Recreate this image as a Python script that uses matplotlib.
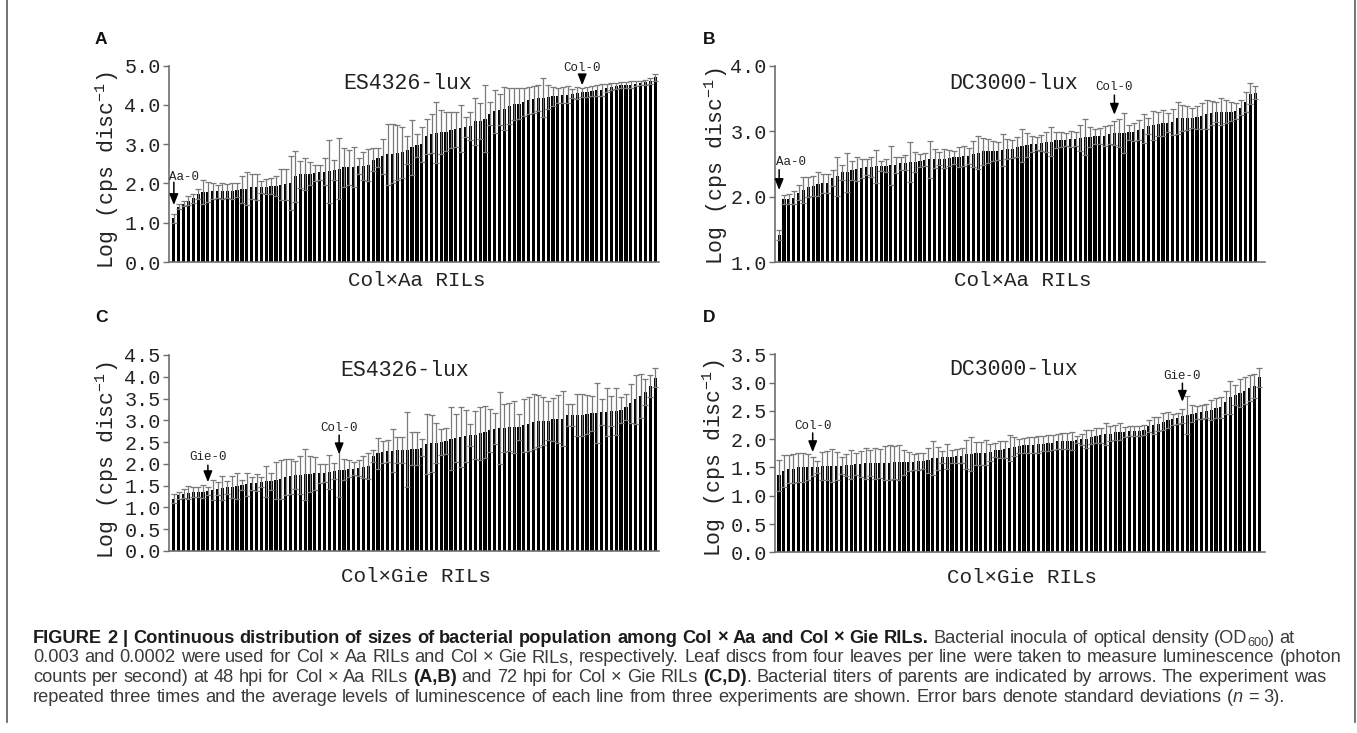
import matplotlib
matplotlib.use('Agg')
import matplotlib.pyplot as plt
import numpy as np
from matplotlib.transforms import IdentityTransform
from matplotlib.lines import Line2D
from matplotlib.ticker import FormatStrFormatter

plt.rcParams['font.family'] = ['Liberation Mono', 'DejaVu Sans']
plt.rcParams['mathtext.fontset'] = 'custom'
plt.rcParams['mathtext.rm'] = 'Liberation Mono'
plt.rcParams['mathtext.it'] = 'Liberation Mono:italic'

# ---------------- data ----------------
# Panel A: Col x Aa RILs, ES4326-lux
a_vals = [1.11, 1.41, 1.49, 1.56, 1.62, 1.73, 1.79, 1.79, 1.80, 1.80,
          1.80, 1.80, 1.81, 1.83, 1.85, 1.87, 1.92, 1.92, 1.92, 1.92,
          1.93, 1.94, 1.97, 1.98, 2.02, 2.19, 2.23, 2.24, 2.25, 2.27,
          2.28, 2.30, 2.31, 2.34, 2.38, 2.41, 2.41, 2.42, 2.44, 2.45,
          2.47, 2.61, 2.66, 2.69, 2.74, 2.76, 2.78, 2.80, 2.85, 2.92,
          2.97, 3.00, 3.20, 3.27, 3.29, 3.31, 3.32, 3.36, 3.38, 3.41,
          3.44, 3.46, 3.58, 3.59, 3.65, 3.78, 3.84, 3.88, 3.90, 3.97,
          4.02, 4.03, 4.08, 4.12, 4.14, 4.18, 4.19, 4.20, 4.22, 4.24,
          4.25, 4.26, 4.29, 4.31, 4.32, 4.33, 4.36, 4.37, 4.39, 4.44,
          4.47, 4.49, 4.50, 4.51, 4.52, 4.54, 4.56, 4.58, 4.61, 4.70]
a_errs = [0.12, 0.07, 0.07, 0.11, 0.11, 0.12, 0.31, 0.25, 0.20, 0.16,
          0.20, 0.18, 0.20, 0.18, 0.35, 0.42, 0.32, 0.33, 0.15, 0.20,
          0.20, 0.25, 0.40, 0.40, 0.69, 0.65, 0.35, 0.40, 0.30, 0.20,
          0.20, 0.35, 0.80, 0.25, 0.78, 0.50, 0.45, 0.50, 0.20, 0.35,
          0.40, 0.30, 0.25, 0.45, 0.78, 0.75, 0.70, 0.65, 0.35, 0.70,
          0.30, 0.45, 0.45, 0.50, 0.78, 0.55, 0.50, 0.45, 0.45, 0.60,
          0.25, 0.35, 0.60, 0.45, 0.85, 0.30, 0.55, 0.40, 0.55, 0.45,
          0.40, 0.40, 0.35, 0.35, 0.35, 0.33, 0.50, 0.30, 0.25, 0.20,
          0.20, 0.22, 0.12, 0.15, 0.12, 0.12, 0.12, 0.14, 0.15, 0.10,
          0.08, 0.08, 0.08, 0.08, 0.08, 0.06, 0.06, 0.06, 0.08, 0.08]

# Panel B: Col x Aa RILs, DC3000-lux
b_vals = [1.41, 1.96, 1.96, 1.98, 2.06, 2.10, 2.15, 2.16, 2.19, 2.20,
          2.20, 2.28, 2.31, 2.37, 2.37, 2.40, 2.42, 2.43, 2.45, 2.45,
          2.46, 2.47, 2.47, 2.48, 2.48, 2.51, 2.52, 2.53, 2.53, 2.55,
          2.56, 2.57, 2.58, 2.58, 2.58, 2.59, 2.60, 2.60, 2.62, 2.62,
          2.65, 2.67, 2.69, 2.70, 2.70,
          2.70, 2.71, 2.73, 2.73, 2.76, 2.78, 2.79, 2.80, 2.81, 2.82,
          2.83, 2.84, 2.86, 2.87, 2.87, 2.88, 2.88, 2.89, 2.91, 2.91,
          2.92, 2.93, 2.93, 2.95, 2.97, 2.97, 2.97, 2.98, 2.99, 3.02,
          3.04, 3.08, 3.09, 3.11, 3.12, 3.13, 3.14, 3.20, 3.20, 3.20,
          3.20, 3.21, 3.23, 3.26, 3.28, 3.29, 3.30, 3.30, 3.30, 3.31,
          3.36, 3.45, 3.57, 3.59]
b_errs = [0.08, 0.07, 0.08, 0.10, 0.12, 0.20, 0.15, 0.15, 0.18, 0.15,
          0.15, 0.12, 0.30, 0.12, 0.30, 0.15, 0.18, 0.15, 0.12, 0.15,
          0.25, 0.08, 0.10, 0.30, 0.12, 0.10, 0.12, 0.30, 0.15, 0.10,
          0.10, 0.28, 0.15, 0.10, 0.15, 0.12, 0.10, 0.15, 0.15, 0.12,
          0.20, 0.25, 0.20, 0.18, 0.15,
          0.14, 0.25, 0.15, 0.14, 0.15, 0.25, 0.18, 0.12, 0.10, 0.12,
          0.15, 0.22, 0.12, 0.12, 0.10, 0.12, 0.10, 0.20, 0.28, 0.15,
          0.12, 0.12, 0.15, 0.15, 0.18, 0.22, 0.30, 0.12, 0.14, 0.15,
          0.22, 0.12, 0.22, 0.18, 0.20, 0.15, 0.20, 0.25, 0.20, 0.18,
          0.15, 0.18, 0.20, 0.22, 0.18, 0.15, 0.20, 0.18, 0.15, 0.12,
          0.12, 0.15, 0.16, 0.10]

# Panel C: Col x Gie RILs, ES4326-lux
c_vals = [1.20, 1.28, 1.32, 1.34, 1.35, 1.36, 1.36, 1.38, 1.39, 1.43,
          1.45, 1.46, 1.47, 1.49, 1.51, 1.53, 1.55, 1.57, 1.59, 1.60,
          1.60, 1.62, 1.65, 1.70, 1.72, 1.74, 1.75, 1.76, 1.77, 1.78,
          1.78, 1.79, 1.82, 1.83, 1.85, 1.87, 1.89, 1.89, 1.91, 1.93,
          1.95, 2.18, 2.24, 2.28, 2.29, 2.30, 2.31, 2.31, 2.33, 2.35,
          2.35, 2.37, 2.45, 2.47, 2.48, 2.51, 2.53, 2.58, 2.60, 2.62,
          2.64, 2.66, 2.67, 2.70, 2.74, 2.77, 2.81, 2.83, 2.83, 2.84,
          2.84, 2.85, 2.89, 2.91, 2.97, 2.98, 2.98, 2.99, 3.02, 3.03,
          3.04, 3.12, 3.12, 3.13, 3.13, 3.14, 3.16, 3.17, 3.20, 3.20,
          3.21, 3.21, 3.23, 3.31, 3.39, 3.48, 3.56, 3.65, 3.78, 3.98]
c_errs = [0.10, 0.08, 0.10, 0.15, 0.12, 0.12, 0.15, 0.10, 0.23, 0.15,
          0.27, 0.15, 0.25, 0.30, 0.12, 0.26, 0.15, 0.20, 0.12, 0.36,
          0.20, 0.43, 0.45, 0.42, 0.40, 0.32, 0.44, 0.58, 0.42, 0.38,
          0.22, 0.20, 0.39, 0.18, 0.60, 0.25, 0.20, 0.15, 0.18, 0.25,
          0.30, 0.13, 0.36, 0.25, 0.25, 0.49, 0.30, 0.30, 0.85, 0.38,
          0.38, 0.20, 0.69, 0.65, 0.45, 0.30, 0.30, 0.72, 0.55, 0.68,
          0.60, 0.25, 0.55, 0.61, 0.60, 0.50, 0.35, 0.83, 0.55, 0.55,
          0.60, 0.30, 0.61, 0.62, 0.63, 0.60, 0.55, 0.45, 0.50, 0.55,
          0.64, 0.25, 0.25, 0.48, 0.48, 0.45, 0.40, 0.69, 0.30, 0.55,
          0.35, 0.54, 0.30, 0.30, 0.45, 0.56, 0.50, 0.30, 0.25, 0.22]

# Panel D: Col x Gie RILs, DC3000-lux
d_vals = [1.36, 1.44, 1.47, 1.48, 1.50, 1.50, 1.50, 1.51, 1.51, 1.53,
          1.53, 1.53, 1.53, 1.53, 1.54, 1.55, 1.56, 1.56, 1.57, 1.57,
          1.57, 1.57, 1.58, 1.58, 1.59, 1.59, 1.59, 1.60, 1.60, 1.61,
          1.61, 1.63, 1.66, 1.66, 1.68, 1.69, 1.69, 1.70, 1.71, 1.73,
          1.74, 1.75, 1.75, 1.76, 1.77,
          1.81, 1.81, 1.82, 1.84, 1.87, 1.88, 1.89, 1.90, 1.90, 1.91,
          1.92, 1.93, 1.94, 1.96, 1.97, 1.97, 1.97, 1.99, 2.00, 2.00,
          2.04, 2.06, 2.07, 2.09, 2.10, 2.12, 2.13, 2.13, 2.14, 2.14,
          2.15, 2.16, 2.23, 2.25, 2.27, 2.31, 2.34, 2.35, 2.37, 2.41,
          2.43, 2.45, 2.47, 2.48, 2.50, 2.52, 2.55, 2.56, 2.65, 2.74,
          2.78, 2.81, 2.86, 2.90, 2.94, 3.09]
d_errs = [0.28, 0.28, 0.25, 0.26, 0.25, 0.25, 0.23, 0.17, 0.10, 0.25,
          0.26, 0.29, 0.25, 0.15, 0.20, 0.25, 0.20, 0.23, 0.27, 0.23,
          0.28, 0.25, 0.30, 0.31, 0.29, 0.31, 0.22, 0.17, 0.14, 0.15,
          0.14, 0.22, 0.30, 0.20, 0.11, 0.22, 0.11, 0.13, 0.13, 0.25,
          0.30, 0.20, 0.20, 0.22, 0.15,
          0.12, 0.15, 0.15, 0.23, 0.17, 0.13, 0.13, 0.14, 0.14, 0.15,
          0.13, 0.14, 0.14, 0.13, 0.14, 0.14, 0.16, 0.06, 0.10, 0.16,
          0.12, 0.13, 0.13, 0.20, 0.13, 0.13, 0.15, 0.09, 0.09, 0.09,
          0.09, 0.09, 0.10, 0.15, 0.13, 0.15, 0.14, 0.10, 0.10, 0.13,
          0.33, 0.15, 0.12, 0.12, 0.13, 0.18, 0.18, 0.19, 0.20, 0.29,
          0.18, 0.25, 0.23, 0.23, 0.22, 0.16]

titles = ['ES4326-lux', 'DC3000-lux', 'ES4326-lux', 'DC3000-lux']
xlabels = ['Col×Aa RILs', 'Col×Aa RILs', 'Col×Gie RILs', 'Col×Gie RILs']
letters = ['A', 'B', 'C', 'D']
ylims = [(0, 5.0), (1.0, 4.0), (0, 4.5), (0, 3.5)]
ysteps = [1.0, 1.0, 0.5, 0.5]
# parent lines: (label, bar index, arrow tip, arrow start, text y, text x offset, ha)
parents = [
    [('Aa-0', 0, 1.45, 2.03, 2.16, -0.9, 'left'), ('Col-0', 84, 4.50, 4.76, 4.95, 0, 'center')],
    [('Aa-0', 0, 2.10, 2.41, 2.53, -0.6, 'left'), ('Col-0', 69, 3.25, 3.55, 3.67, 0, 'center')],
    [('Gie-0', 7, 1.58, 1.97, 2.15, 0, 'center'), ('Col-0', 34, 2.22, 2.66, 2.82, 0, 'center')],
    [('Col-0', 7, 1.77, 2.11, 2.24, 0, 'center'), ('Gie-0', 84, 2.66, 2.99, 3.11, 0, 'center')],
]
series = [(a_vals, a_errs), (b_vals, b_errs), (c_vals, c_errs), (d_vals, d_errs)]

# ---------------- layout (pixels) ----------------
W, H = 1357, 733
fig = plt.figure(figsize=(W / 100, H / 100), dpi=100)
rects = [(169, 65.7, 659, 262), (775, 65.7, 1265, 262),
         (169, 355, 659, 551), (775, 354.3, 1265, 552.3)]
xlims = [(-1.0, 99.8), (-0.85, 100.0), (-1.0, 99.8), (-0.85, 101.2)]
ylab_pos = [(107, 170), (716, 166), (107, 460), (714, 458)]
letter_pos = [(95, 39), (703, 39), (95, 317.5), (703, 317.5)]
xlab_y = [-0.092, -0.092, -0.128, -0.128]
title_pos = [(0.486, 0.91), (0.486, 0.91), (0.48, 0.923), (0.486, 0.923)]
AX_COL = '#6e6e6e'
ident = IdentityTransform()

for k in range(4):
    l, t, r, b = rects[k]
    ax = fig.add_axes([l / W, 1 - b / H, (r - l) / W, (b - t) / H])
    vals, errs = series[k]
    x = np.arange(len(vals))
    ax.bar(x, vals, width=0.66, color='black', zorder=2)
    ax.errorbar(x, vals, yerr=errs, fmt='none', ecolor='#7a7a7a', elinewidth=0.9,
                capsize=2.4, capthick=0.9, zorder=3)
    ax.set_xlim(*xlims[k])
    ax.set_ylim(*ylims[k])
    ax.set_yticks(np.arange(ylims[k][0], ylims[k][1] + 1e-6, ysteps[k]))
    ax.yaxis.set_major_formatter(FormatStrFormatter('%.1f'))
    for s in ['top', 'right']:
        ax.spines[s].set_visible(False)
    for s in ['left', 'bottom']:
        ax.spines[s].set_color(AX_COL)
        ax.spines[s].set_linewidth(1.2)
    ax.tick_params(axis='x', bottom=False, labelbottom=False)
    ax.tick_params(axis='y', direction='out', length=4, width=1.0, color=AX_COL,
                   labelsize=14.5, pad=2, labelcolor='#222222')
    ax.text(title_pos[k][0], title_pos[k][1], titles[k], transform=ax.transAxes,
            ha='center', va='center', fontsize=15.5, color='#222222')
    ax.text(0.505, xlab_y[k], xlabels[k], transform=ax.transAxes,
            ha='center', va='center', fontsize=15, color='#222222')
    fig.text(ylab_pos[k][0], H - ylab_pos[k][1], 'Log (cps disc$^{-1}$)',
             transform=ident, rotation=90, ha='center', va='center',
             fontsize=15.5, color='#222222')
    fig.text(letter_pos[k][0], H - letter_pos[k][1], letters[k], transform=ident,
             ha='left', va='center', fontsize=12.5, fontweight='bold',
             family='Liberation Sans', color='#111111')
    for (lab, ix, tip, start, ty, dx, ha) in parents[k]:
        ax.annotate('', xy=(ix, tip), xytext=(ix, start),
                    arrowprops=dict(arrowstyle='-|>,head_length=0.55,head_width=0.22',
                                    color='black', lw=1.1, shrinkA=0, shrinkB=0,
                                    mutation_scale=12),
                    annotation_clip=False, zorder=5)
        ax.text(ix + dx, ty, lab, ha=ha, va='center', fontsize=9, color='#222222',
                clip_on=False, zorder=5)

# ---------------- caption ----------------
cap_lines = [
    [('FIGURE 2 | Continuous distribution of sizes of bacterial population among Col × Aa and Col × Gie RILs.', 'b'),
     (' Bacterial inocula of optical density (OD', 'r'), ('600', 'sub'), (') at', 'r')],
    [('0.003 and 0.0002 were used for Col × Aa RILs and Col × Gie RILs, respectively. Leaf discs from four leaves per line were taken to measure luminescence (photon', 'r')],
    [('counts per second) at 48 hpi for Col × Aa RILs ', 'r'), ('(A,B)', 'b'),
     (' and 72 hpi for Col × Gie RILs ', 'r'), ('(C,D)', 'b'),
     ('. Bacterial titers of parents are indicated by arrows. The experiment was', 'r')],
    [('repeated three times and the average levels of luminescence of each line from three experiments are shown. Error bars denote standard deviations (', 'r'),
     ('n', 'i'), (' = 3).', 'r')],
]
baselines = [643, 662.5, 682, 701.5]
cap_left = 33

renderer = fig.canvas.get_renderer()


def tokenize(segs):
    words = [[]]
    for txt, st in segs:
        parts = txt.split(' ')
        for j, p in enumerate(parts):
            if j > 0:
                words.append([])
            if p:
                words[-1].append((p, st))
    return [w for w in words if w]


def props(st, fs):
    d = dict(family='Liberation Sans', fontsize=fs, color='#3a3a3a',
             fontweight='normal', fontstyle='normal')
    if st == 'b':
        d['fontweight'] = 'bold'
        d['color'] = '#1c1c1c'
    elif st == 'i':
        d['fontstyle'] = 'italic'
    elif st == 'sub':
        d['fontsize'] = fs * 0.7
    return d


def width_of(txt, st, fs):
    tt = fig.text(0, 0, txt, transform=ident, **props(st, fs))
    w = tt.get_window_extent(renderer).width
    tt.remove()
    return w


def space_w(st, fs):
    return width_of('x x', st, fs) - width_of('xx', st, fs)


def line_width(segs, fs):
    words = tokenize(segs)
    tot = 0
    for i, w in enumerate(words):
        for p, st in w:
            tot += width_of(p, st, fs)
        if i < len(words) - 1:
            tot += space_w(w[-1][1] if w[-1][1] != 'sub' else 'r', fs)
    return tot


fs0 = 10.0
fs = fs0 * (1347 - cap_left) / line_width(cap_lines[1], fs0)

for segs, base in zip(cap_lines, baselines):
    words = tokenize(segs)
    xpos = cap_left
    for i, w in enumerate(words):
        for p, st in w:
            dy = -3 if st == 'sub' else 0
            fig.text(xpos, H - base + dy, p, transform=ident, ha='left',
                     va='baseline', **props(st, fs))
            xpos += width_of(p, st, fs)
        if i < len(words) - 1:
            xpos += space_w(w[-1][1] if w[-1][1] != 'sub' else 'r', fs)

# frame side lines
for xx in (7, 1355):
    fig.add_artist(Line2D([xx, xx], [H - 722, H], transform=ident,
                          color='#5a5a5a', lw=1.2))

fig.savefig('out.png', dpi=100)
